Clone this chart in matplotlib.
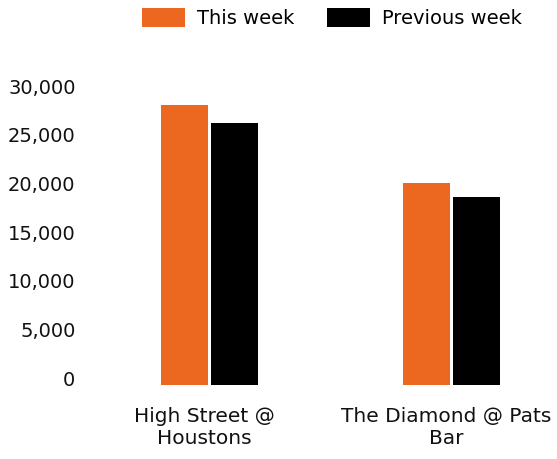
import matplotlib
matplotlib.use("Agg")
import matplotlib.pyplot as plt
import matplotlib.transforms as mtransforms
import numpy as np

categories = ["High Street @\nHoustons", "The Diamond @ Pats\nBar"]
this_week = [28770, 20750]
previous_week = [26920, 19320]
yticks = [0, 5000, 10000, 15000, 20000, 25000, 30000]

ORANGE = "#EC6720"
BLACK = "#000000"

plt.rcParams['font.family'] = ['DejaVu Sans']

fig = plt.figure(figsize=(5.57, 4.59), dpi=100)
ax = fig.add_axes([88 / 557, 74 / 459, 1 - 88 / 557, 292 / 459])

x = np.arange(len(categories))
w = 0.194
gap = 0.006
ax.bar(x - w / 2 - gap, this_week, width=w, color=ORANGE, label="This week")
ax.bar(x + w / 2 + gap, previous_week, width=w, color=BLACK, label="Previous week")

ax.set_xlim(-0.5, (557 - 209.5) / 242)
ax.set_ylim(0, 30000)
ax.set_yticks(yticks)
ax.set_yticklabels([f"{v:,}" for v in yticks])
ax.set_xticks(x)
ax.set_xticklabels(categories, linespacing=1.2)

for s in ax.spines.values():
    s.set_visible(False)
ax.tick_params(axis="y", length=0, labelsize=14, colors="#111111", pad=9)
ax.tick_params(axis="x", length=0, labelsize=14.5, colors="#111111", pad=16)

# tick labels sit a bit above their gridline in the original
shift = mtransforms.ScaledTranslation(0, 7 / 100, fig.dpi_scale_trans)
for lbl in ax.get_yticklabels():
    lbl.set_transform(lbl.get_transform() + shift)
shiftx = mtransforms.ScaledTranslation(-5 / 100, 0, fig.dpi_scale_trans)
for lbl in ax.get_xticklabels():
    lbl.set_transform(lbl.get_transform() + shiftx)

fig.legend(loc="center", bbox_to_anchor=(332 / 557, 1 - 18 / 459), ncol=2,
           frameon=False, fontsize=14, handlelength=2.2, handleheight=1.1,
           handletextpad=0.6, columnspacing=1.7)

fig.savefig("out.png", dpi=100)
